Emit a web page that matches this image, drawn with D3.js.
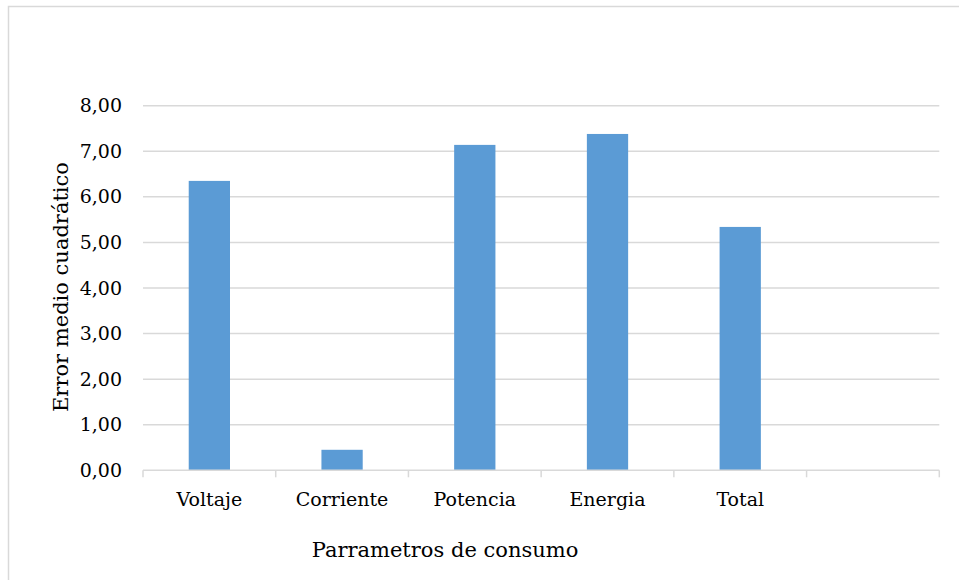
<!DOCTYPE html>
<html><head><meta charset="utf-8">
<script src="https://cdn.jsdelivr.net/npm/d3@7"></script>
<style>body{margin:0;background:#fff}svg{display:block}svg text{font-family:"DejaVu Serif",serif}</style>
</head><body>
<script>
const categories = ["Voltaje","Corriente","Potencia","Energia","Total",""];
const values = [6.35, 0.45, 7.14, 7.38, 5.34, null];
const yTicks = [0,1,2,3,4,5,6,7,8];
const yTitle = "Error medio cuadrático";
const xTitle = "Parrametros de consumo";

const W = 959, H = 580;
const svg = d3.select("body").append("svg").attr("width",W).attr("height",H);
svg.append("rect").attr("x",8.5).attr("y",6.5).attr("width",W+10).attr("height",H+10)
  .attr("fill","#fff").attr("stroke","#d9d9d9").attr("stroke-width",1.5);

const x = d3.scaleBand().domain(categories.map((c,i)=>i)).range([143,939.3]).paddingInner(0.689).paddingOuter(0.689/2);
const y = d3.scaleLinear().domain([0,8]).range([470.3,105.7]);

svg.append("g").selectAll("line").data(yTicks.filter(d=>d>0)).join("line")
  .attr("x1",143).attr("x2",939.3).attr("y1",d=>y(d)).attr("y2",d=>y(d))
  .attr("stroke","#d9d9d9").attr("stroke-width",1.5);

const ya = svg.append("g").attr("transform","translate(143,0)")
  .call(d3.axisLeft(y).tickValues(yTicks).tickSize(0).tickPadding(21).tickFormat(d=>d3.format(".2f")(d).replace(".",",")));
ya.select(".domain").remove();
ya.attr("font-family",null);
ya.selectAll("text").attr("font-size",19).attr("fill","#000");

svg.append("g").selectAll("rect").data(values.map((v,i)=>({v,i})).filter(d=>d.v!=null)).join("rect")
  .attr("x",d=>x(d.i)).attr("width",x.bandwidth())
  .attr("y",d=>y(d.v)).attr("height",d=>y(0)-y(d.v)).attr("fill","#5b9bd5");

const step = x.step();
const xa = svg.append("g").attr("transform","translate(0,470.3)");
xa.append("line").attr("x1",143).attr("x2",939.3).attr("stroke","#d9d9d9").attr("stroke-width",1.5);
xa.selectAll("line.tk").data(d3.range(categories.length+1)).join("line").attr("class","tk")
  .attr("x1",i=>143+i*step).attr("x2",i=>143+i*step).attr("y1",0).attr("y2",7)
  .attr("stroke","#d9d9d9").attr("stroke-width",1.5);
xa.selectAll("text").data(categories).join("text")
  .attr("x",(c,i)=>x(i)+x.bandwidth()/2).attr("y",36).attr("text-anchor","middle")
  .attr("font-size",19).attr("fill","#000").text(c=>c);

svg.append("text").attr("x",445).attr("y",557).attr("text-anchor","middle")
  .attr("font-size",21).attr("fill","#000").text(xTitle);
svg.append("text").attr("transform","translate(68,287) rotate(-90)").attr("text-anchor","middle")
  .attr("font-size",21).attr("fill","#000").text(yTitle);
</script>
</body></html>
